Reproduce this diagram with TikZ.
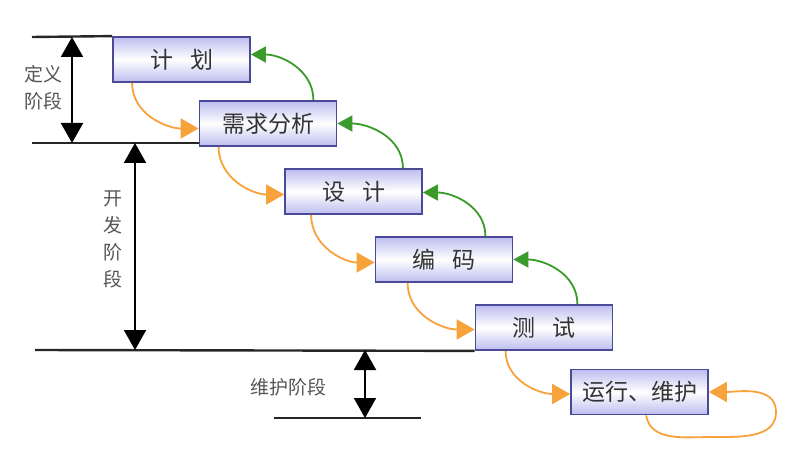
\documentclass[tikz,border=0pt]{standalone}
\usepackage{fontspec}
\newfontfamily\cjk{Noto Sans CJK SC}
\usetikzlibrary{arrows.meta,calc}
\definecolor{boxline}{HTML}{4A4A96}
\definecolor{boxfill}{HTML}{BDBDF0}
\definecolor{orng}{HTML}{F7A23A}
\definecolor{grn}{HTML}{3A9A2A}
\definecolor{lbl}{HTML}{555555}
\definecolor{txt}{HTML}{333333}
\begin{document}
\begin{tikzpicture}[x=1pt,y=-1pt,
 stage/.style={draw=boxline, line width=1.8pt, minimum width=137pt, minimum height=45pt, inner sep=0pt,
   top color=boxfill, bottom color=boxfill, middle color=white, font=\cjk\fontsize{23}{23}\selectfont, text=txt},
 fwd/.style={draw=orng, line width=1.8pt, -{Triangle[length=18pt,width=20pt]}},
 back/.style={draw=grn, line width=1.8pt, -{Triangle[length=15pt,width=16pt]}},
 rule/.style={draw=black!85, line width=2.4pt},
 dim/.style={draw=black, line width=2pt, {Triangle[length=20pt,width=22pt]}-{Triangle[length=20pt,width=22pt]}},
 phase/.style={font=\cjk\fontsize{19}{27}\selectfont, text=lbl, align=center, inner sep=0pt}
]
\useasboundingbox (0,0) rectangle (802,470);

% stage boxes
\node[stage] (jh) at (181.5,59.5) {计\hspace{17pt}划};
\node[stage] (xq) at (268,123.5) {需求分析};
\node[stage] (sj) at (353.5,191.5) {设\hspace{17pt}计};
\node[stage] (bm) at (444,259.5) {编\hspace{17pt}码};
\node[stage] (cs) at (544,327.5) {测\hspace{17pt}试};
\node[stage] (yx) at (639.5,392) {运行、维护};

% horizontal rules
\coordinate (r1) at (32,37);
\coordinate (r2) at (32,143);
\coordinate (r3) at (35,350);
\coordinate (r4a) at (274,418);
\coordinate (r4b) at (421,418);
\draw[rule] (r1) -- (jh.north west);
\draw[rule] (r2) -- (r2 -| xq.west);
\draw[rule] (r3) -- (cs.south west);
\draw[rule] (r4a) -- (r4b);

% dimension arrows
\coordinate (d1a) at (72,37);
\coordinate (d1b) at (72,143);
\coordinate (d2a) at (135,143);
\coordinate (d2b) at (135,350);
\coordinate (d3a) at (365,350);
\coordinate (d3b) at (365,418);
\draw[dim] (d1a) -- (d1b);
\draw[dim] (d2a) -- (d2b);
\draw[dim] (d3a) -- (d3b);

% phase labels
\node[phase] (l1) at (43,88) {定义\\阶段};
\node[phase] (l2) at (113,239) {开\\发\\阶\\段};
\node[phase] (l3) at (288,387) {维护阶段};

% forward (orange) arrows
\draw[fwd] ($(jh.south west)+(20,0)$) to[out=-90,in=180] ($(xq.west)+(0,5)$);
\draw[fwd] ($(xq.south west)+(20,0)$) to[out=-90,in=180] ($(sj.west)+(0,3)$);
\draw[fwd] ($(sj.south west)+(27,0)$) to[out=-90,in=180] ($(bm.west)+(0,3)$);
\draw[fwd] ($(bm.south west)+(33,0)$) to[out=-90,in=180] ($(cs.west)+(0,2)$);
\draw[fwd] ($(cs.south west)+(31,0)$) to[out=-90,in=180] ($(yx.west)+(0,2)$);
\coordinate (lp1) at (712,437);
\coordinate (lp2) at (776,412);
\draw[fwd] ($(yx.south west)+(76,0)$) to[out=-80,in=180] (lp1) to[out=0,in=-90] (lp2) to[out=90,in=0] (yx.east);

% backward (green) arrows
\draw[back] ($(xq.north east)+(-24,0)$) to[out=90,in=0] ($(jh.east)+(0,-5)$);
\draw[back] ($(sj.north east)+(-20,0)$) to[out=90,in=0] (xq.east);
\draw[back] ($(bm.north east)+(-28,0)$) to[out=90,in=0] ($(sj.east)+(0,1)$);
\draw[back] ($(cs.north east)+(-36,0)$) to[out=90,in=0] (bm.east);
\end{tikzpicture}
\end{document}
